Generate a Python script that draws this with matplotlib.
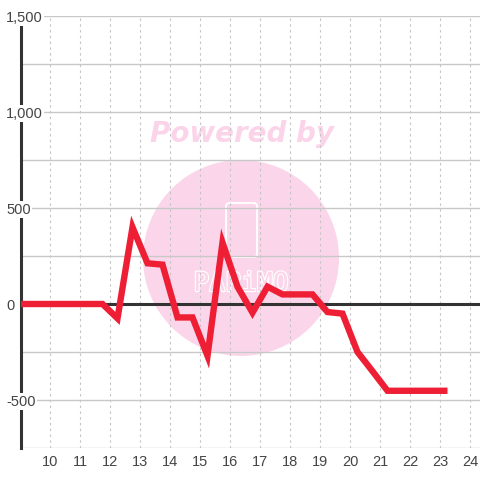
# plot.py
# hourly balance line (half-hour points) with the pink "Powered by" watermark

import matplotlib
matplotlib.use("Agg")
import matplotlib.pyplot as plt
from matplotlib.patches import Circle, FancyBboxPatch
import matplotlib.patheffects as pe

plt.rcParams['font.family'] = ['Liberation Sans', 'DejaVu Sans']

# data
hours = [8.75, 9.25, 9.75, 10.25, 10.75, 11.25, 11.75,
         12.25, 12.75, 13.25, 13.75, 14.25, 14.75, 15.25, 15.75,
         16.25, 16.75, 17.25, 17.75, 18.25, 18.75, 19.25, 19.75,
         20.25, 20.75, 21.25, 21.75, 22.25, 22.75, 23.25]
values = [0, 0, 0, 0, 0, 0, 0,
          -75, 400, 212, 205, -70, -70, -270, 320,
          90, -45, 90, 50, 50, 50, -42, -50,
          -250, -350, -452, -452, -452, -452, -452]
x_ticks = list(range(10, 25))
y_ticks = [-500, 0, 500, 1000, 1500]
y_labels = ["-500", "0", "500", "1,000", "1,500"]

W = 480.0
fig = plt.figure(figsize=(4.8, 4.8), dpi=100)
fig.patch.set_facecolor("white")
ax = fig.add_axes([21 / W, 32 / W, 459 / W, 432 / W])

ax.set_xlim(10 - 29 / 30.0, 10 + 430 / 30.0)
ax.set_ylim(-750, 1500)

# grid: solid horizontal every 250, dotted vertical at every hour
ax.set_axisbelow(True)
ax.set_yticks(range(-750, 1501, 250))
ax.set_xticks(x_ticks)
ax.grid(axis="y", color="#c8c8c8", linewidth=1.0, linestyle="-")
ax.grid(axis="x", color="#c4c4c4", linewidth=0.8, linestyle=(0, (2.2, 3.0)))
ax.tick_params(axis="both", length=0)
ax.tick_params(axis="x", labelsize=10.5, labelcolor="#444444", pad=5)
ax.set_yticklabels([])

for s in ["top", "right", "bottom"]:
    ax.spines[s].set_visible(False)
ax.spines["left"].set_color("#333333")
ax.spines["left"].set_linewidth(2.2)
ax.spines["left"].set_zorder(3)

# zero line
ax.axhline(0, color="#333333", linewidth=2.2, zorder=2)

# watermark
ax.add_patch(Circle((241 / W, 1 - 258 / W), 98 / W, transform=fig.transFigure,
                    facecolor="#fbd6ea", edgecolor="none", zorder=0.2))
ax.text(242 / W, 1 - 134 / W, "Powered by", transform=fig.transFigure,
        ha="center", va="center", fontsize=20, fontweight="bold", fontstyle="italic",
        family="DejaVu Sans", color="#fcd4ea", zorder=0.3)
ax.add_patch(FancyBboxPatch((226 / W, 1 - 257 / W), 31 / W, 54 / W,
                            boxstyle="round,pad=0,rounding_size=0.006",
                            transform=fig.transFigure, facecolor="none",
                            edgecolor="white", linewidth=1.3, zorder=0.3))
ax.text(241 / W, 1 - 284 / W, "PAPiMO", transform=fig.transFigure,
        ha="center", va="center", fontsize=19, family="DejaVu Sans Mono",
        color="#fbd6ea", zorder=0.3,
        path_effects=[pe.withStroke(linewidth=1.6, foreground="white")])

# the series
ax.plot(hours, values, color="#ee1f35", linewidth=4.6,
        solid_joinstyle="miter", solid_capstyle="butt", zorder=4)

# y labels sit on the spine with a white box behind them
for v, lab in zip(y_ticks, y_labels):
    ax.text(-15 / 459.0, v, lab, transform=ax.get_yaxis_transform(),
            ha="left", va="center_baseline", fontsize=10.5, color="#444444",
            clip_on=False, zorder=5,
            bbox=dict(facecolor="white", edgecolor="none", pad=1.0))

fig.savefig("out.png", dpi=100)
